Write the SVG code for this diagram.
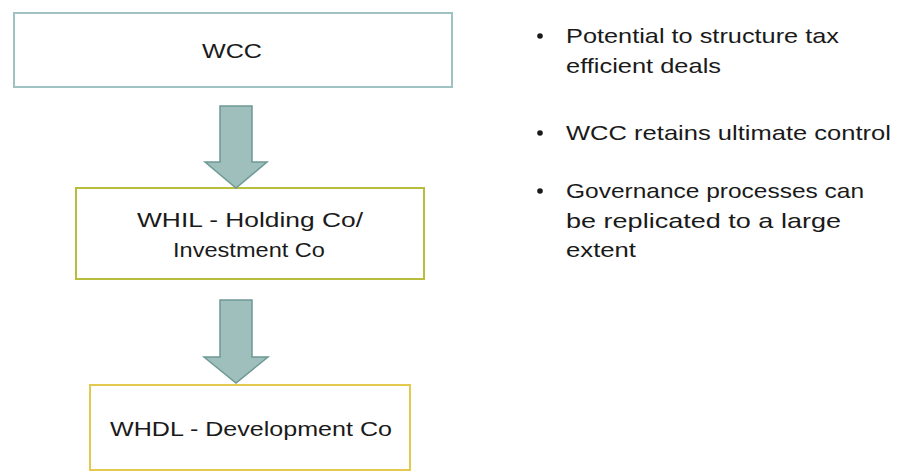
<svg xmlns="http://www.w3.org/2000/svg" width="899" height="473" viewBox="0 0 899 473">
<style>
text{font-family:"Liberation Sans",Arial,sans-serif;font-size:21px;fill:#1a1a1a}
.box{fill:#fff;stroke-width:2}
.arrow{fill:#9ebfbc;stroke:#6e9995;stroke-width:1.5}
</style>
<rect width="899" height="473" fill="#fff"/>
<g id="wcc">
<rect class="box" x="14" y="13" width="438" height="74" stroke="#9fc3c3"/>
<text x="232" y="58" text-anchor="middle" textLength="60" lengthAdjust="spacingAndGlyphs">WCC</text>
</g>
<g id="whil">
<rect class="box" x="76" y="188" width="348" height="91" stroke="#b9bd3c"/>
<text x="250" y="227" text-anchor="middle" textLength="226" lengthAdjust="spacingAndGlyphs">WHIL - Holding Co/</text>
<text x="249" y="257" text-anchor="middle" textLength="152" lengthAdjust="spacingAndGlyphs">Investment Co</text>
</g>
<g id="whdl">
<rect class="box" x="90" y="385" width="320" height="85" stroke="#e3ca4e"/>
<text x="251" y="436" text-anchor="middle" textLength="282" lengthAdjust="spacingAndGlyphs">WHDL - Development Co</text>
</g>
<g id="connectors">
<polygon class="arrow" points="220,106 252,106 252,162 267,162 236,188 205,162 220,162"/>
<polygon class="arrow" points="220,300 252,300 252,357 268,357 236,383 204,357 220,357"/>
</g>
<g id="bullets">
<circle cx="540" cy="36" r="2.8" fill="#1a1a1a"/>
<text x="566" y="43" textLength="273" lengthAdjust="spacingAndGlyphs">Potential to structure tax</text>
<text x="566" y="73" textLength="155" lengthAdjust="spacingAndGlyphs">efficient deals</text>
<circle cx="540" cy="133" r="2.8" fill="#1a1a1a"/>
<text x="566" y="140" textLength="325" lengthAdjust="spacingAndGlyphs">WCC retains ultimate control</text>
<circle cx="540" cy="191" r="2.8" fill="#1a1a1a"/>
<text x="566" y="198" textLength="298" lengthAdjust="spacingAndGlyphs">Governance processes can</text>
<text x="566" y="228" textLength="275" lengthAdjust="spacingAndGlyphs">be replicated to a large</text>
<text x="566" y="257" textLength="70" lengthAdjust="spacingAndGlyphs">extent</text>
</g>
</svg>
